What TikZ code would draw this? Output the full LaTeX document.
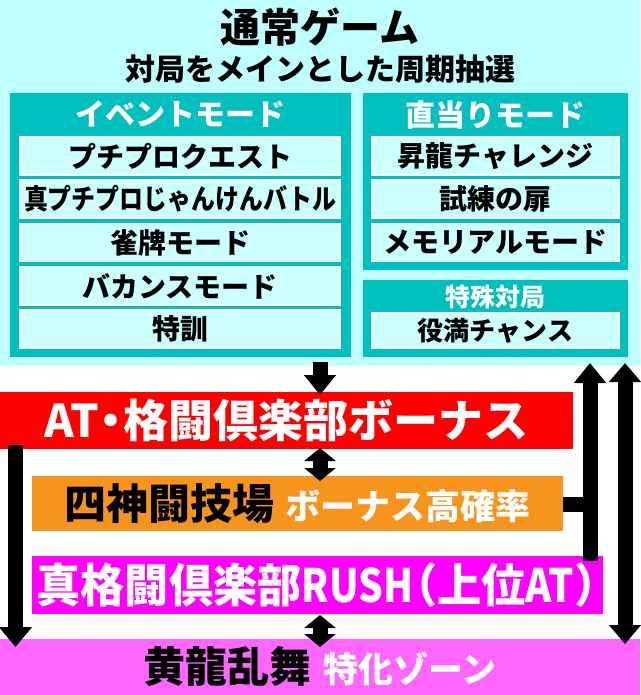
\documentclass[tikz,border=0pt]{standalone}
\usepackage{fontspec}
\usepackage{graphicx}
\setmainfont{Noto Sans CJK JP}
\usetikzlibrary{arrows.meta,calc}
\definecolor{bgcyan}{RGB}{192,255,255}
\definecolor{tealbg}{RGB}{0,191,191}
\definecolor{rowfill}{RGB}{204,255,255}
\definecolor{orng}{RGB}{247,148,30}
\definecolor{mgnt}{RGB}{255,0,255}
\definecolor{pnk}{RGB}{255,102,255}
\newcommand{\myfs}[1]{\fontsize{#1}{#1}\selectfont}
\begin{document}
\begin{tikzpicture}[x=1pt,y=-1pt,
  every node/.style={inner sep=0pt,outer sep=0pt,font=\bfseries},
  bgbox/.style={fill=bgcyan,anchor=north west},
  tealbox/.style={fill=tealbg,anchor=north west},
  tealtitle/.style={text=white},
  rowbox/.style={fill=rowfill,draw=white,line width=1.5pt,anchor=north west,minimum height=38pt},
  bar/.style={anchor=north west},
  bigarr/.style={line width=15pt,-{Triangle[width=31pt,length=20pt]}},
  dblarr/.style={line width=15pt,{Triangle[width=31pt,length=13pt]}-{Triangle[width=31pt,length=13pt]}},
  longdbl/.style={line width=15pt,{Triangle[width=31pt,length=19pt]}-{Triangle[width=31pt,length=19pt]}}
]
\useasboundingbox (0,0) rectangle (640,695);
% normal game area
\node[bgbox,minimum width=640pt,minimum height=366pt] (normal) at (0,0) {};
\node (title) at (320,27) {\myfs{40}通常ゲーム};
\node (subtitle) at (320,69) {\myfs{30}対局をメインとした周期抽選};
% event mode
\node[tealbox,minimum width=341pt,minimum height=264pt] (event) at (10,93) {};
\node[tealtitle] (eventT) at (180.5,114) {\myfs{30}イベントモード};
\node[rowbox,minimum width=320pt] (ev1) at (20,137) {\myfs{28}プチプロクエスト};
\node[rowbox,minimum width=320pt] (ev2) at (20,180) {\myfs{28}\scalebox{0.855}[1]{真プチプロじゃんけんバトル}};
\node[rowbox,minimum width=320pt] (ev3) at (20,223.5) {\myfs{28}雀牌モード};
\node[rowbox,minimum width=320pt] (ev4) at (20,267) {\myfs{28}バカンスモード};
\node[rowbox,minimum width=320pt] (ev5) at (20,310) {\myfs{28}特訓};
% direct mode
\node[tealbox,minimum width=265pt,minimum height=177pt] (direct) at (363,93) {};
\node[tealtitle] (directT) at (495.5,115) {\myfs{30}直当りモード};
\node[rowbox,minimum width=247pt] (dr1) at (372,137) {\myfs{28}昇龍チャレンジ};
\node[rowbox,minimum width=247pt] (dr2) at (372,180) {\myfs{28}試練の扉};
\node[rowbox,minimum width=247pt] (dr3) at (372,223.5) {\myfs{28}メモリアルモード};
% special
\node[tealbox,minimum width=265pt,minimum height=77pt] (special) at (363,280) {};
\node[tealtitle] (specialT) at (495.5,297) {\myfs{25}特殊対局};
\node[rowbox,minimum width=247pt,minimum height=35pt] (sp1) at (372,313) {\myfs{26}役満チャンス};
% bars
\node[bar,fill=red,minimum width=573pt,minimum height=57pt,text=white] (red) at (0,392)
  {\myfs{45}AT\kern-0.23em・\kern-0.23em格闘倶楽部ボーナス};
\node[bar,fill=orng,minimum width=531pt,minimum height=55pt] (orange) at (32,476)
  {\myfs{42}四神闘技場\hspace{11pt}{\color{white}\myfs{35}ボーナス高確率}};
\node[bar,fill=mgnt,minimum width=571pt,minimum height=58pt,text=white] (mag) at (32,556)
  {\myfs{46}\scalebox{0.96}[1]{真格闘倶楽部\scalebox{0.88}[1]{RUSH}\kern-0.45em（上位\scalebox{0.9}[1]{AT}）\kern-0.45em}};
\node[bar,fill=pnk,minimum width=640pt,minimum height=56pt] (pink) at (0,639)
  {\myfs{42}黄龍乱舞\hspace{12pt}{\color{white}\myfs{35}特化ゾーン}};
% helper x positions
\coordinate (lx) at (15.5,0);
\coordinate (ux) at (590,0);
\coordinate (rx) at (625,0);
% arrows
\draw[bigarr] ($(normal.south)+(0,-4)$) -- ($(red.north -| normal.south)+(0,3)$);
\draw[dblarr] ($(red.south -| normal.south)+(0,-1)$) -- ($(orange.north -| normal.south)+(0,5)$);
\draw[dblarr] ($(mag.south -| normal.south)+(0,1)$) -- ($(pink.north -| normal.south)+(0,8)$);
\draw[line width=15pt,-{Triangle[width=32pt,length=20pt]}] ($(red.south -| lx)+(0,-4)$) -- ($(pink.north -| lx)+(0,8)$);
\draw[bigarr] ($(mag.north -| ux)+(0,5)$) -- ($(normal.south -| ux)+(0,-3)$);
\draw[line width=15pt] ($(orange.east)+(0,1)$) -- ($(orange.east -| ux)+(7.5,1)$);
\draw[longdbl] ($(normal.south -| rx)+(0,-3)$) -- ($(pink.north -| rx)+(0,5)$);
\end{tikzpicture}
\end{document}
